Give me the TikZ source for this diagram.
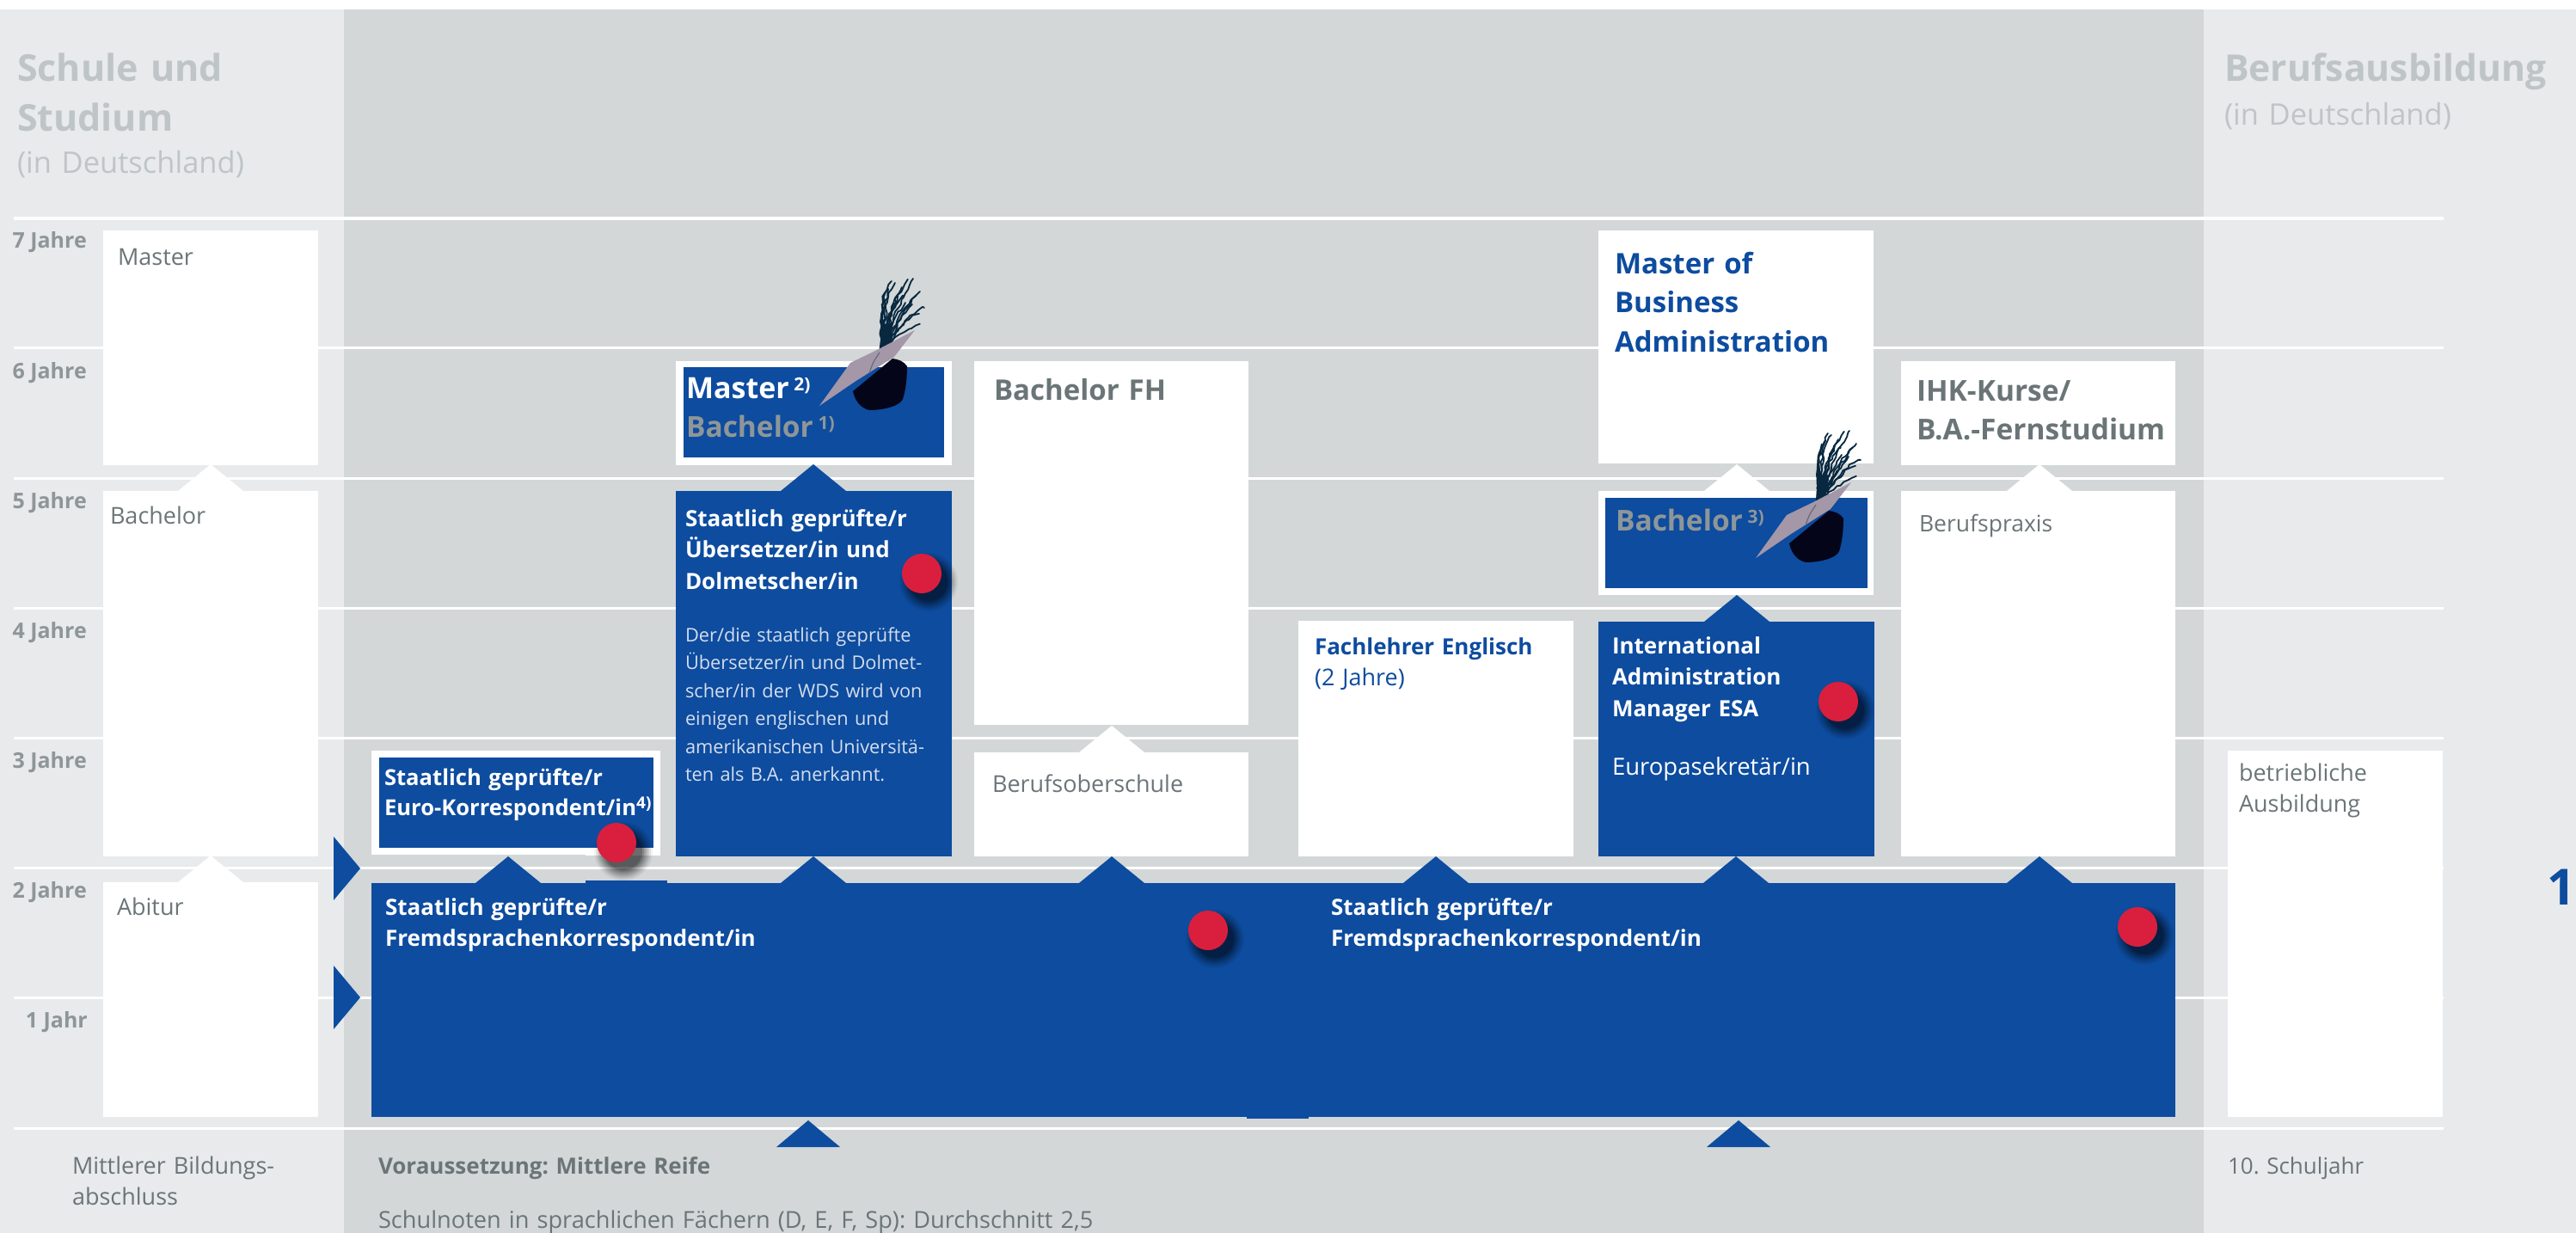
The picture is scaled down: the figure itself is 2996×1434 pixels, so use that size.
\documentclass[tikz,border=0pt]{standalone}
\usepackage{fontspec}
\usetikzlibrary{decorations.pathmorphing}
\setmainfont{Open Sans}
\frenchspacing
\definecolor{panel}{HTML}{E8EAEC}
\definecolor{mid}{HTML}{D3D7D8}
\definecolor{wds}{HTML}{0D4C9F}
\definecolor{reddot}{HTML}{D91F3D}
\definecolor{txt}{HTML}{6B7577}
\definecolor{head}{HTML}{BFC5C7}
\definecolor{yr}{HTML}{8E9698}
\definecolor{para}{HTML}{D5DDEC}
\definecolor{greyb}{HTML}{8F9698}
\definecolor{board}{HTML}{A397A8}
\definecolor{capc}{HTML}{05051A}
\definecolor{plume}{HTML}{07283F}
\tikzset{
  lab/.style={anchor=base west,inner sep=0pt,outer sep=0pt,align=left,text width=#1},
  lab/.default=330pt,
  tbody/.style={lab,text=txt,font=\fontsize{27}{36}\selectfont},
  tbold/.style={lab=340pt,text=white,font=\fontsize{26}{36.5}\selectfont\bfseries},
  yearlab/.style={anchor=base east,inner sep=0pt,text=yr,font=\fontsize{25}{28}\selectfont\bfseries},
  hline/.style={draw=white,line width=3pt},
  plumeline/.style={draw=plume,line width=1.8pt,line cap=round,line join=round,
    decorate,decoration={random steps,segment length=5pt,amplitude=1.6pt}},
  wbox/.style={fill=white},
  bbox/.style={fill=wds},
}
% name, x1, y1, x2, y2, fill style
\newcommand{\bx}[6]{%
  \pgfmathsetmacro{\bw}{#4-#2}\pgfmathsetmacro{\bh}{#5-#3}%
  \node[#6,name=#1,anchor=north west,inner sep=0pt,outer sep=0pt,minimum width=\bw pt,minimum height=\bh pt] at (#2,#3) {};}
% fill colour, apex x, base y
\newcommand{\tri}[3]{\fill[#1] (#2-38,#3) -- (#2,#3-31) -- (#2+38,#3) -- cycle;}
\newcommand{\reddotat}[2]{%
  \foreach \r/\o in {34/.05,32/.07,30/.09,28/.1,26/.12,24/.15,22/.2}{\fill[black,opacity=\o] (#1+8,#2+10) circle (\r pt);}
  \fill[reddot] (#1,#2) circle (23pt);}
% graduation cap, origin at the front tip of the board
\newcommand{\gradcap}[2]{%
\begin{scope}[shift={(#1,#2)}]
  \fill[capc] (39,-17) .. controls (41,-8) and (46,2) .. (58,5) .. controls (75,5) and (94,0) .. (97,-8)
     .. controls (101,-20) and (102,-35) .. (102,-46) .. controls (98,-52) and (92,-54) .. (85,-55) -- cycle;
  \fill[plume] (69,-60) -- (73,-95) -- (86,-97) -- (80,-66) -- cycle;
  \foreach \ax/\ay/\bx/\by/\ex/\ey in {72/-90/68/-115/84/-145, 78/-90/74/-125/88/-143, 80/-85/92/-120/109/-148,
      82/-85/84/-125/103/-147, 84/-85/96/-115/117/-133, 86/-82/100/-115/113/-128, 85/-80/102/-108/122/-114,
      88/-78/95/-100/116/-107, 84/-75/100/-90/117/-95, 74/-85/72/-100/75/-125, 70/-85/76/-105/72/-118,
      78/-80/80/-110/96/-138, 76/-80/90/-105/100/-120, 80/-75/88/-95/108/-118, 74/-80/82/-115/92/-130,
      72/-85/78/-120/80/-136, 76/-90/86/-120/99/-128, 74/-95/70/-125/78/-132}
    {\draw[plumeline] (73,-62) .. controls (\ax,\ay) and (\bx,\by) .. (\ex,\ey);}
  \fill[board] (0,0) -- (36,-50) -- (67,-65) -- (111,-88) -- (87,-57) -- (41,-28) -- cycle;
  \draw[draw=plume!40!board,line width=1.2pt] (58,-38) .. controls (62,-50) .. (70,-62);
\end{scope}}
\begin{document}
\begin{tikzpicture}[x=1pt,y=-1pt]
\pgfmathsetseed{7}
\useasboundingbox (0,0) rectangle (2996,1434);
\clip (0,0) rectangle (2996,1434);
\fill[white] (0,0) rectangle (2996,1434);
% panels
\fill[panel] (0,11) rectangle (400,1434);
\fill[mid] (400,11) rectangle (2563,1434);
\fill[panel] (2563,11) rectangle (2996,1434);
% year lines
\foreach \y in {254,404,556,707,858,1009,1160,1312}
  \draw[hline] (16,\y) -- (2842,\y);
% headings
\node[lab,text=head,font=\fontsize{43}{58}\selectfont\bfseries] (hschule) at (20,95) {Schule und\\Studium};
\node[lab,text=head,font=\fontsize{34.5}{46}\selectfont] (hschule2) at (20,202) {(in Deutschland)};
\node[lab=400pt,text=head,font=\fontsize{42.7}{58}\selectfont\bfseries] (hberuf) at (2587,95) {Berufsausbildung};
\node[lab,text=head,font=\fontsize{34.5}{46}\selectfont] (hberuf2) at (2587,146) {(in Deutschland)};
% year labels
\node[yearlab] (y7) at (101,288) {7 Jahre};
\node[yearlab] (y6) at (101,440) {6 Jahre};
\node[yearlab] (y5) at (101,591) {5 Jahre};
\node[yearlab] (y4) at (101,742) {4 Jahre};
\node[yearlab] (y3) at (101,893) {3 Jahre};
\node[yearlab] (y2) at (101,1044) {2 Jahre};
\node[yearlab] (y1) at (102,1195) {1 Jahr};
% left column
\bx{bMaster}{120}{268}{370}{541}{wbox}
\bx{bBachelor}{120}{571}{370}{996}{wbox}
\bx{bAbitur}{120}{1026}{370}{1299}{wbox}
\tri{white}{245}{571}
\tri{white}{245}{1026}
\node[tbody] (tMaster) at (137,308) {Master};
\node[tbody] (tBachelor) at (128,609) {Bachelor};
\node[tbody] (tAbitur) at (136,1064) {Abitur};
% arrows into the central field
\fill[wds] (388,973) -- (419,1010) -- (388,1047) -- cycle;
\fill[wds] (388,1123) -- (419,1160) -- (388,1197) -- cycle;
% main bar
\fill[white] (681,985) rectangle (768,995);
\fill[wds] (681,1024) rectangle (776,1028);
\fill[wds] (1450,1290) rectangle (1522,1301);
\bx{bMain}{432}{1027}{2530}{1299}{bbox}
\fill[wds] (940,1303) -- (977,1334) -- (903,1334) -- cycle;
\fill[wds] (2022,1303) -- (2059,1334) -- (1985,1334) -- cycle;
\tri{wds}{591}{1027}
\tri{wds}{946}{1027}
\tri{wds}{1293}{1027}
\tri{wds}{1670}{1027}
\tri{wds}{2019}{1027}
\tri{wds}{2372}{1027}
% Euro-Korrespondent
\bx{bEuroOuter}{432}{873}{768}{994}{wbox}
\bx{bEuro}{441}{881}{760}{986}{bbox}
\node[tbold,font=\fontsize{25.6}{35}\selectfont\bfseries] (tEuro) at (447,913) {Staatlich geprüfte/r\\Euro-Korrespondent/in\raisebox{8pt}{\fontsize{19}{22}\selectfont 4)}};
% Übersetzer column
\bx{bMasterOuter}{786}{420}{1107}{541}{wbox}
\bx{bMasterInner}{795}{427}{1098}{532}{bbox}
\bx{bUeb}{786}{571}{1107}{996}{bbox}
\tri{wds}{946}{571}
\node[lab=290pt,text=white,font=\fontsize{34}{45}\selectfont\bfseries] (tMaster2) at (798,463) {Master\,\raisebox{9pt}{\fontsize{21}{24}\selectfont 2)}};
\node[lab=290pt,text=greyb,font=\fontsize{33.5}{45}\selectfont\bfseries] (tBachelor1) at (798,508) {Bachelor\,\raisebox{9pt}{\fontsize{21}{24}\selectfont 1)}};
\node[tbold,lab=300pt] (tUeb) at (797,612) {Staatlich geprüfte/r\\Übersetzer/in und\\Dolmetscher/in};
\node[lab=300pt,text=para,font=\fontsize{21.8}{32.5}\selectfont] (tUebP) at (797,746) {Der/die staatlich geprüfte\\Übersetzer/in und Dolmet-\\scher/in der WDS wird von\\einigen englischen und\\amerikanischen Universitä-\\ten als B.A. anerkannt.};
% Bachelor FH column
\bx{bFH}{1133}{420}{1452}{843}{wbox}
\bx{bBOS}{1133}{875}{1452}{996}{wbox}
\tri{white}{1293}{875}
\node[lab=300pt,text=txt,font=\fontsize{33}{45}\selectfont\bfseries] (tFH) at (1156,465) {Bachelor FH};
\node[tbody,lab=290pt] (tBOS) at (1154,921) {Berufsoberschule};
% Fachlehrer
\bx{bFach}{1510}{722}{1830}{996}{wbox}
\node[lab=300pt,text=wds,font=\fontsize{26}{36}\selectfont\bfseries] (tFach) at (1529,761) {Fachlehrer Englisch};
\node[lab=300pt,text=wds,font=\fontsize{27}{36}\selectfont] (tFach2) at (1529,797) {(2 Jahre)};
% MBA column
\bx{bMBA}{1859}{268}{2179}{539}{wbox}
\bx{bBachOuter}{1859}{571}{2179}{692}{wbox}
\bx{bBachInner}{1867}{579}{2172}{684}{bbox}
\bx{bIAM}{1859}{723}{2180}{996}{bbox}
\tri{white}{2020}{571}
\tri{wds}{2020}{723}
\node[lab=300pt,text=wds,font=\fontsize{33}{45.5}\selectfont\bfseries] (tMBA) at (1878,318) {Master of\\Business\\Administration};
\node[lab=290pt,text=greyb,font=\fontsize{33.5}{45}\selectfont\bfseries] (tBachelor3) at (1879,617) {Bachelor\,\raisebox{9pt}{\fontsize{21}{24}\selectfont 3)}};
\node[tbold,lab=300pt] (tIAM) at (1875,760) {International\\Administration\\Manager ESA};
\node[lab=300pt,text=white,font=\fontsize{27.5}{36}\selectfont] (tEuropa) at (1875,901) {Europasekretär/in};
% IHK column
\bx{bIHK}{2211}{420}{2530}{541}{wbox}
\bx{bPraxis}{2211}{571}{2530}{996}{wbox}
\tri{white}{2372}{571}
\node[lab=300pt,text=txt,font=\fontsize{33.5}{45}\selectfont\bfseries] (tIHK) at (2229,466) {IHK-Kurse/\\B.A.-Fernstudium};
\node[tbody,lab=290pt,font=\fontsize{26.5}{36}\selectfont] (tPraxis) at (2232,618) {Berufspraxis};
% Ausbildung
\bx{bAus}{2591}{873}{2841}{1299}{wbox}
\node[tbody,lab=230pt] (tAus) at (2604,908) {betriebliche\\Ausbildung};
% bar text
\node[tbold] (tFrem1) at (448,1064) {Staatlich geprüfte/r\\Fremdsprachenkorrespondent/in};
\node[tbold] (tFrem2) at (1548,1064) {Staatlich geprüfte/r\\Fremdsprachenkorrespondent/in};
% bottom row
\node[tbody] (tMB) at (84,1365) {Mittlerer Bildungs-\\abschluss};
\node[lab=700pt,text=txt,font=\fontsize{26}{36}\selectfont\bfseries] (tVor) at (440,1365) {Voraussetzung: Mittlere Reife};
\node[lab=1100pt,text=txt,font=\fontsize{27.2}{36}\selectfont] (tNoten) at (440,1428) {Schulnoten in sprachlichen Fächern (D, E, F, Sp): Durchschnitt 2,5};
\node[tbody,lab=300pt,font=\fontsize{26}{36}\selectfont] (t10) at (2591,1365) {10. Schuljahr};
\node[anchor=base east,inner sep=0pt,text=wds,font=\fontsize{58}{60}\selectfont\bfseries] (tOne) at (2996,1052) {1};
% red dots
\reddotat{717}{980}
\reddotat{1072}{667}
\reddotat{2138}{816}
\reddotat{1405}{1082}
\reddotat{2486}{1078}
% caps
\gradcap{953}{472}
\gradcap{2042}{649}
\end{tikzpicture}
\end{document}
